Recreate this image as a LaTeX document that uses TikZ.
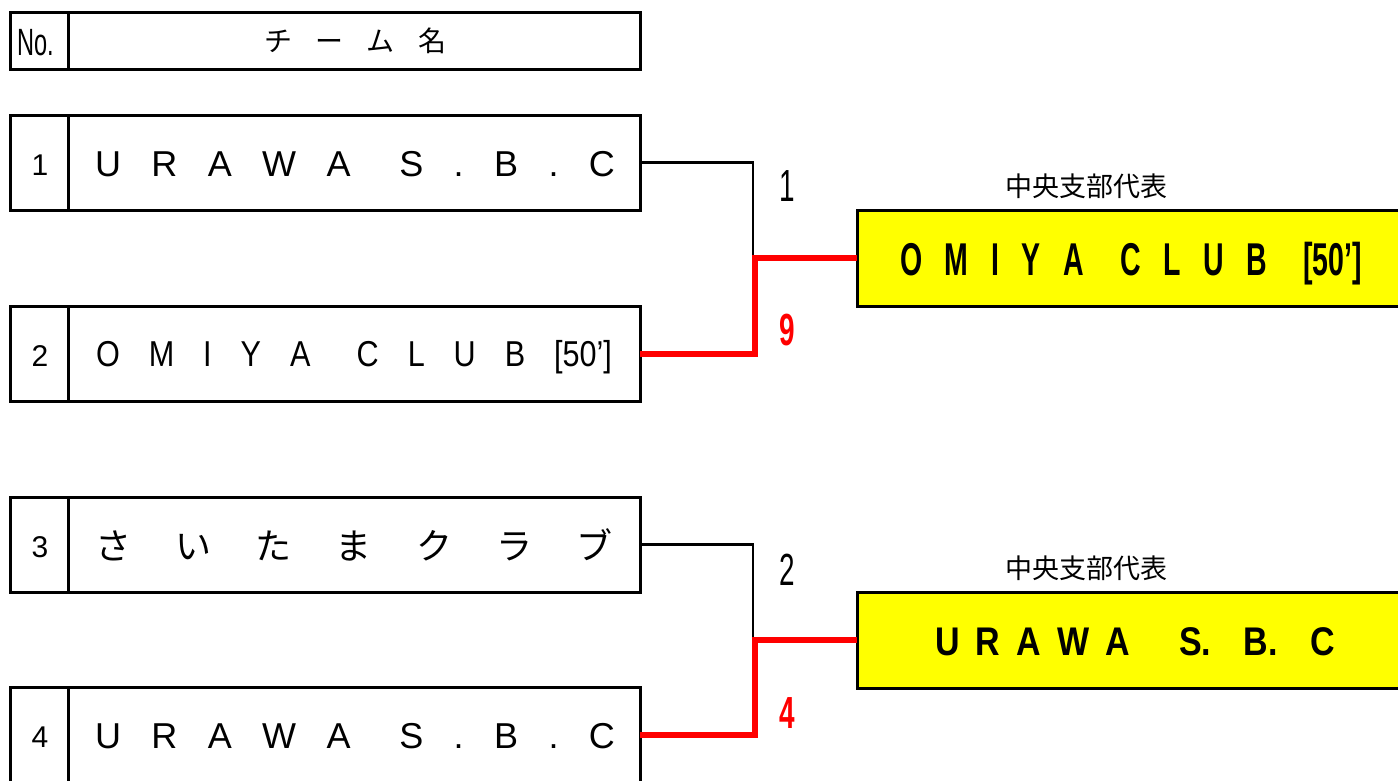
\documentclass[tikz,border=0pt]{standalone}
\usepackage{fontspec}
\setmainfont{Liberation Sans}
\newfontfamily\narrowA[FakeStretch=0.62]{Liberation Sans}
\newfontfamily\narrowB[FakeStretch=0.85]{Liberation Sans}
\newfontfamily\narrowC[FakeStretch=0.85]{Liberation Sans}
\newfontfamily\jp{Noto Sans CJK JP}
\definecolor{winred}{RGB}{255,0,0}
\definecolor{winyellow}{RGB}{255,255,0}
\tikzset{
  cell/.style={draw, line width=3pt, inner sep=0pt, outer sep=0pt, anchor=north west},
  win/.style={cell, fill=winyellow},
  lose/.style={line width=2.5pt, line join=miter},
  wline/.style={line width=6pt, winred, line join=miter},
  txt/.style={inner sep=0pt, anchor=base},
  jtxt/.style={inner sep=0pt, anchor=center}
}
\newcommand{\gp}{\hspace{0pt plus 0.6fill}}
\begin{document}
\begin{tikzpicture}[x=1pt,y=-1pt]
\useasboundingbox (0,0) rectangle (1398,780);
\clip (0,0) rectangle (1398,780);
% header
\node[cell, minimum width=58, minimum height=57] (hn) at (10,12) {};
\node[cell, minimum width=572, minimum height=57] (ht) at (68,12) {};
\node[txt, font=\narrowA\fontsize{38}{38}\selectfont] (hnt) at (36,55) {No.};
\node[jtxt, font=\jp\fontsize{28}{28}\selectfont] (htt) at (355,41) {\makebox[182pt][l]{チ\hfill ー\hfill ム\hfill 名}};
% team boxes
\node[cell, minimum width=58, minimum height=95] (n1) at (10,115) {};
\node[cell, minimum width=572, minimum height=95] (t1) at (68,115) {};
\node[cell, minimum width=58, minimum height=95] (n2) at (10,306) {};
\node[cell, minimum width=572, minimum height=95] (t2) at (68,306) {};
\node[cell, minimum width=58, minimum height=95] (n3) at (10,497) {};
\node[cell, minimum width=572, minimum height=95] (t3) at (68,497) {};
\node[cell, minimum width=58, minimum height=95] (n4) at (10,687) {};
\node[cell, minimum width=572, minimum height=95] (t4) at (68,687) {};
% numbers
\node[txt, font=\fontsize{30}{30}\selectfont] (l1) at (40,175) {1};
\node[txt, font=\fontsize{30}{30}\selectfont] (l2) at (40,366) {2};
\node[txt, font=\fontsize{30}{30}\selectfont] (l3) at (40,557) {3};
\node[txt, font=\fontsize{30}{30}\selectfont] (l4) at (40,747) {4};
% names
\node[txt, font=\fontsize{36}{36}\selectfont] (m1) at (355,176) {\makebox[520pt][l]{U\hfill R\hfill A\hfill W\hfill A\hfill\gp S\hfill .\hfill B\hfill .\hfill C}};
\node[txt, font=\narrowB\fontsize{36}{36}\selectfont] (m2) at (354,366) {\makebox[516pt][l]{O\hfill M\hfill I\hfill Y\hfill A\hfill\gp C\hfill L\hfill U\hfill B\hfill [50’]}};
\node[jtxt, font=\jp\fontsize{36}{36}\selectfont] (m3) at (354,545) {\makebox[518pt][l]{さ\hfill い\hfill た\hfill ま\hfill ク\hfill ラ\hfill ブ}};
\node[txt, font=\fontsize{36}{36}\selectfont] (m4) at (355,748) {\makebox[520pt][l]{U\hfill R\hfill A\hfill W\hfill A\hfill\gp S\hfill .\hfill B\hfill .\hfill C}};
% winners
\node[win, minimum width=545, minimum height=96] (w1) at (857,210) {};
\node[win, minimum width=545, minimum height=96] (w2) at (857,592) {};
\node[txt, font=\narrowA\bfseries\fontsize{46}{46}\selectfont] (wt1) at (1131,275) {\makebox[462pt][l]{O\hfill M\hfill I\hfill Y\hfill A\hfill\gp C\hfill L\hfill U\hfill B\hfill\gp [50’]}};
\node[txt, font=\narrowC\bfseries\fontsize{40}{40}\selectfont] (wt2) at (1135,655) {\makebox[400pt][l]{U\hfill R\hfill A\hfill W\hfill A\hfill\hfill\hfill S.\hfill\hfill B.\hfill\hfill C}};
\node[jtxt, font=\jp\fontsize{27}{27}\selectfont] (c1) at (1086,186) {中央支部代表};
\node[jtxt, font=\jp\fontsize{27}{27}\selectfont] (c2) at (1086,568) {中央支部代表};
% brackets
\coordinate (j1) at (755,258);
\coordinate (j2) at (755,640);
\coordinate (k1) at (753,258);
\coordinate (k2) at (753,640);
\draw[lose] (t1.east) -| (k1);
\draw[lose] (t3.east) -| (k2);
\draw[wline] (t2.east) -| (j1) |- (w1.west);
\draw[wline] (t4.east) -| (j2) |- (w2.west);
% scores
\node[txt, font=\narrowA\fontsize{45}{45}\selectfont] (s1) at (787,201) {1};
\node[txt, font=\narrowA\bfseries\fontsize{45}{45}\selectfont, text=winred] (s9) at (787,345) {9};
\node[txt, font=\narrowA\fontsize{45}{45}\selectfont] (s2) at (787,585) {2};
\node[txt, font=\narrowA\bfseries\fontsize{45}{45}\selectfont, text=winred] (s4) at (787,728) {4};
\end{tikzpicture}
\end{document}
